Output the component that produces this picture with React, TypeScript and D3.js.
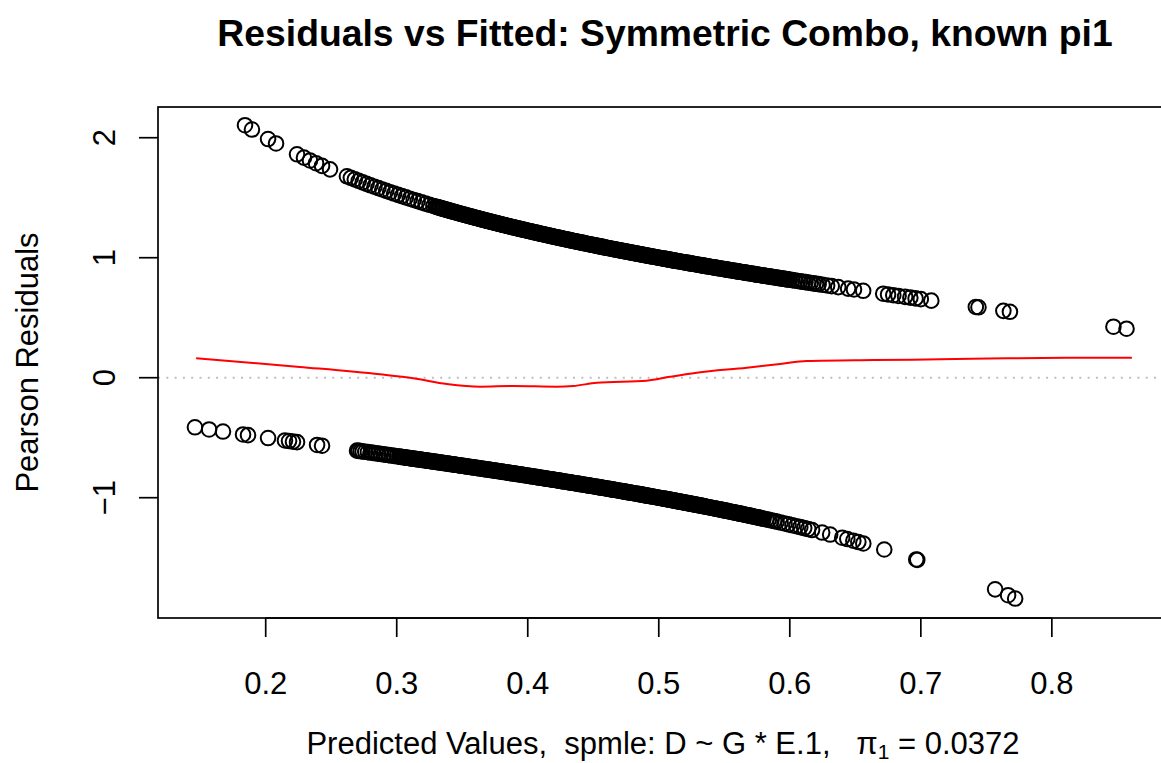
import React from 'react'
import * as d3 from 'd3'

// fitted values read off the plot, split by observed outcome
// cases (D = 1) -> upper band, controls (D = 0) -> lower band
const fittedCasesSparse = [
  0.1842, 0.1895, 0.2018, 0.2079, 0.2239, 0.2292, 0.2338, 0.2384, 0.243, 0.2491,
  0.262, 0.265, 0.268, 0.271, 0.274, 0.277, 0.28, 0.283, 0.286, 0.289, 0.292, 0.295,
  0.298, 0.301, 0.304, 0.307, 0.31, 0.313, 0.316, 0.319, 0.322, 0.325, 0.328,
  0.602, 0.604, 0.606, 0.608, 0.610, 0.612, 0.614, 0.616, 0.618, 0.620, 0.622,
  0.625, 0.6285, 0.632, 0.637, 0.6445, 0.649, 0.656, 0.6713, 0.675, 0.679, 0.683,
  0.688, 0.692, 0.696, 0.700, 0.708, 0.742, 0.744, 0.763, 0.768, 0.847, 0.857,
]
// the solid part of the upper band, fitted values in thousandths
const fittedCasesDense = [
  330, 331, 332, 333, 334, 335, 336, 337, 338, 339,
  340, 341, 342, 343, 344, 345, 346, 347, 348, 349,
  350, 351, 352, 353, 354, 355, 356, 357, 358, 359,
  360, 361, 362, 363, 364, 365, 366, 367, 368, 369,
  370, 371, 372, 373, 374, 375, 376, 377, 378, 379,
  380, 381, 382, 383, 384, 385, 386, 387, 388, 389,
  390, 391, 392, 393, 394, 395, 396, 397, 398, 399,
  400, 401, 402, 403, 404, 405, 406, 407, 408, 409,
  410, 411, 412, 413, 414, 415, 416, 417, 418, 419,
  420, 421, 422, 423, 424, 425, 426, 427, 428, 429,
  430, 431, 432, 433, 434, 435, 436, 437, 438, 439,
  440, 441, 442, 443, 444, 445, 446, 447, 448, 449,
  450, 451, 452, 453, 454, 455, 456, 457, 458, 459,
  460, 461, 462, 463, 464, 465, 466, 467, 468, 469,
  470, 471, 472, 473, 474, 475, 476, 477, 478, 479,
  480, 481, 482, 483, 484, 485, 486, 487, 488, 489,
  490, 491, 492, 493, 494, 495, 496, 497, 498, 499,
  500, 501, 502, 503, 504, 505, 506, 507, 508, 509,
  510, 511, 512, 513, 514, 515, 516, 517, 518, 519,
  520, 521, 522, 523, 524, 525, 526, 527, 528, 529,
  530, 531, 532, 533, 534, 535, 536, 537, 538, 539,
  540, 541, 542, 543, 544, 545, 546, 547, 548, 549,
  550, 551, 552, 553, 554, 555, 556, 557, 558, 559,
  560, 561, 562, 563, 564, 565, 566, 567, 568, 569,
  570, 571, 572, 573, 574, 575, 576, 577, 578, 579,
  580, 581, 582, 583, 584, 585, 586, 587, 588, 589,
  590, 591, 592, 593, 594, 595, 596, 597, 598, 599, 600,
]

const fittedControlsSparse = [
  0.146, 0.1568, 0.1674, 0.1827, 0.1865, 0.2018, 0.2147, 0.2178, 0.2208, 0.2239,
  0.2392, 0.243,
  0.2697, 0.271, 0.2725, 0.274, 0.276, 0.278, 0.28, 0.282, 0.284, 0.286, 0.288, 0.29,
  0.292, 0.294, 0.296, 0.298, 0.300, 0.302,
  0.580, 0.582, 0.584, 0.586, 0.588, 0.590, 0.593, 0.596, 0.599, 0.602, 0.605, 0.608,
  0.611, 0.614, 0.617, 0.6247, 0.6308, 0.640, 0.6439, 0.6485, 0.6523, 0.6561, 0.6721,
  0.6965, 0.6973, 0.7567, 0.7666, 0.772,
]
// the solid part of the lower band, fitted values in thousandths
const fittedControlsDense = [
  303, 304, 305, 306, 307, 308, 309,
  310, 311, 312, 313, 314, 315, 316, 317, 318, 319,
  320, 321, 322, 323, 324, 325, 326, 327, 328, 329,
  330, 331, 332, 333, 334, 335, 336, 337, 338, 339,
  340, 341, 342, 343, 344, 345, 346, 347, 348, 349,
  350, 351, 352, 353, 354, 355, 356, 357, 358, 359,
  360, 361, 362, 363, 364, 365, 366, 367, 368, 369,
  370, 371, 372, 373, 374, 375, 376, 377, 378, 379,
  380, 381, 382, 383, 384, 385, 386, 387, 388, 389,
  390, 391, 392, 393, 394, 395, 396, 397, 398, 399,
  400, 401, 402, 403, 404, 405, 406, 407, 408, 409,
  410, 411, 412, 413, 414, 415, 416, 417, 418, 419,
  420, 421, 422, 423, 424, 425, 426, 427, 428, 429,
  430, 431, 432, 433, 434, 435, 436, 437, 438, 439,
  440, 441, 442, 443, 444, 445, 446, 447, 448, 449,
  450, 451, 452, 453, 454, 455, 456, 457, 458, 459,
  460, 461, 462, 463, 464, 465, 466, 467, 468, 469,
  470, 471, 472, 473, 474, 475, 476, 477, 478, 479,
  480, 481, 482, 483, 484, 485, 486, 487, 488, 489,
  490, 491, 492, 493, 494, 495, 496, 497, 498, 499,
  500, 501, 502, 503, 504, 505, 506, 507, 508, 509,
  510, 511, 512, 513, 514, 515, 516, 517, 518, 519,
  520, 521, 522, 523, 524, 525, 526, 527, 528, 529,
  530, 531, 532, 533, 534, 535, 536, 537, 538, 539,
  540, 541, 542, 543, 544, 545, 546, 547, 548, 549,
  550, 551, 552, 553, 554, 555, 556, 557, 558, 559,
  560, 561, 562, 563, 564, 565, 566, 567, 568, 569,
  570, 571, 572, 573, 574, 575, 576, 577, 578, 579,
]

// lowess smooth (red line)
const smoothX = [0.1469, 0.226, 0.2873, 0.3127, 0.3382, 0.3636, 0.389, 0.4221, 0.4348, 0.4527, 0.4908, 0.5086, 0.529, 0.5672, 0.5926, 0.613, 0.6638, 0.7147, 0.7656, 0.8165, 0.8611]
const smoothY = [0.162, 0.09, 0.028, -0.005, -0.052, -0.075, -0.069, -0.075, -0.069, -0.042, -0.025, 0.008, 0.042, 0.083, 0.114, 0.139, 0.147, 0.153, 0.162, 0.167, 0.167]

const xTicks = [0.2, 0.3, 0.4, 0.5, 0.6, 0.7, 0.8]
const yTicks = [-1, 0, 1, 2]

const title = 'Residuals vs Fitted: Symmetric Combo, known pi1'
const yTitle = 'Pearson Residuals'
const pi1 = '0.0372'

// Pearson residual of a binary outcome
const pearson = (p: number, d: number) => (d - p) / Math.sqrt(p * (1 - p))

const App = () => {
  const W = 1161
  const H = 763
  const left = 158
  const right = 1164
  const top = 107
  const bottom = 618
  const font = '"Liberation Sans", Arial, Helvetica, sans-serif'

  const x = d3.scaleLinear().domain([0.1178, 0.8856]).range([left, right])
  const y = d3.scaleLinear().domain([-2.0025, 2.256]).range([bottom, top])

  const cases = [...fittedCasesSparse, ...fittedCasesDense.map((m) => m / 1000)]
  const controls = [...fittedControlsSparse, ...fittedControlsDense.map((m) => m / 1000)]
  const points = [
    ...cases.map((p) => ({ p, r: pearson(p, 1) })),
    ...controls.map((p) => ({ p, r: pearson(p, 0) })),
  ]

  const smooth = smoothX.map((v, i) => [v, smoothY[i]] as [number, number])
  const line = d3
    .line<[number, number]>()
    .x((d) => x(d[0]))
    .y((d) => y(d[1]))
    .curve(d3.curveMonotoneX)

  const fmt = (v: number) => (v < 0 ? '\u2212' + Math.abs(v) : String(v))

  return (
    <svg
      width={W}
      height={H}
      style={{ position: 'absolute', left: 0, top: 0, background: '#fff' }}
      fontFamily={font}
    >
      <rect x={0} y={0} width={W} height={H} fill="#fff" />
      <text x={665} y={46} textAnchor="middle" fontSize={37.3} fontWeight="bold">
        {title}
      </text>

      {/* zero reference line */}
      <line
        x1={left}
        x2={right}
        y1={y(0)}
        y2={y(0)}
        stroke="#bebebe"
        strokeWidth={2}
        strokeDasharray="2 6.3"
      />

      {points.map((d, i) => (
        <circle key={i} cx={x(d.p)} cy={y(d.r)} r={7.3} fill="none" stroke="#000" strokeWidth={2} />
      ))}

      <path d={line(smooth) || ''} fill="none" stroke="#ff0000" strokeWidth={2} />

      <rect x={left} y={top} width={right - left} height={bottom - top} fill="none" stroke="#000" strokeWidth={1.7} />

      {/* x axis */}
      <line x1={x(xTicks[0])} x2={x(xTicks[xTicks.length - 1])} y1={bottom} y2={bottom} stroke="#000" strokeWidth={1.7} />
      {xTicks.map((t) => (
        <g key={t}>
          <line x1={x(t)} x2={x(t)} y1={bottom} y2={bottom + 19} stroke="#000" strokeWidth={1.7} />
          <text x={x(t)} y={694} textAnchor="middle" fontSize={31}>
            {t.toFixed(1)}
          </text>
        </g>
      ))}

      {/* y axis */}
      {yTicks.map((t) => (
        <g key={t}>
          <line x1={left - 19} x2={left} y1={y(t)} y2={y(t)} stroke="#000" strokeWidth={1.7} />
          <text
            transform={`translate(115,${y(t)}) rotate(-90)`}
            textAnchor="middle"
            fontSize={31}
          >
            {fmt(t)}
          </text>
        </g>
      ))}

      <text transform={`translate(38,${(top + bottom) / 2}) rotate(-90)`} textAnchor="middle" fontSize={31}>
        {yTitle}
      </text>

      <text x={663} y={754} textAnchor="middle" fontSize={31} style={{ whiteSpace: 'pre' }}>
        {'Predicted Values,  spmle: D ~ G * E.1,   \u03c0'}
        <tspan fontSize={21} dy={5}>1</tspan>
        <tspan dy={-5}>{' = ' + pi1}</tspan>
      </text>
    </svg>
  )
}

export default App
